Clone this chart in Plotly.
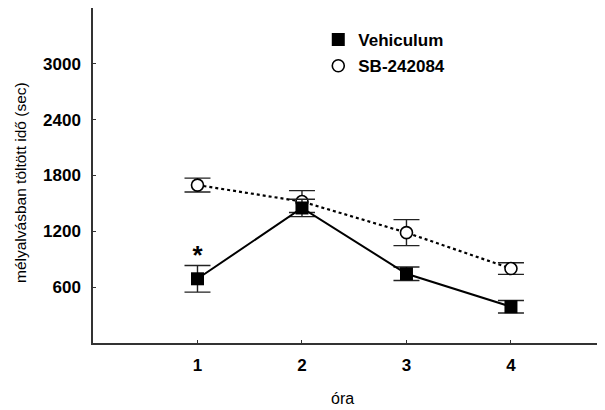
import plotly.graph_objects as go

hours = [1, 2, 3, 4]
veh_mean = [690, 1451, 744, 390]
veh_err = [143, 93, 72, 67]
sb_mean = [1697, 1520, 1186, 800]
sb_err = [75, 118, 140, 62]
y_ticks = [600, 1200, 1800, 2400, 3000]
star_x = [1]
star_y = [920]

FONT = "Liberation Sans, Arial, sans-serif"

# The page body has an 8px default margin; the figure is sized so that the
# plot area lands where the reference has it (left 93, top 8, right 605, bottom 343).
fig = go.Figure()

fig.add_trace(go.Scatter(
    x=hours, y=sb_mean, mode="lines+markers", showlegend=False,
    line=dict(color="black", width=2.2, dash="dot"),
    marker=dict(symbol="circle", size=12, color="white", line=dict(color="black", width=1.6)),
    error_y=dict(type="data", array=sb_err, visible=True, color="#222", thickness=1.4, width=13),
))
fig.add_trace(go.Scatter(
    x=hours, y=veh_mean, mode="lines+markers", showlegend=False,
    line=dict(color="black", width=2),
    marker=dict(symbol="square", size=13, color="black"),
    error_y=dict(type="data", array=veh_err, visible=True, color="#222", thickness=1.4, width=13),
))
# legend-only entries
fig.add_trace(go.Scatter(
    x=[None], y=[None], mode="markers", name="Vehiculum", legendgroup="a",
    marker=dict(symbol="square", size=13, color="black"),
))
fig.add_trace(go.Scatter(
    x=[None], y=[None], mode="markers", name="SB-242084", legendgroup="b",
    marker=dict(symbol="circle", size=12, color="white", line=dict(color="black", width=1.6)),
))

fig.add_trace(go.Scatter(
    x=star_x, y=star_y, mode="text", text=["<b>*</b>"], showlegend=False,
    textfont=dict(family=FONT, size=26, color="black"),
))

fig.update_layout(
    width=597, height=402,
    margin=dict(l=85, r=0, t=0, b=67),
    paper_bgcolor="white", plot_bgcolor="white",
    font=dict(family=FONT, color="black"),
    legend=dict(
        x=0.44, y=0.958, xanchor="left", yanchor="top",
        font=dict(family=FONT, size=17, color="black", weight="bold"),
        bgcolor="rgba(0,0,0,0)", tracegroupgap=1,
    ),
    xaxis=dict(
        range=[0, 4.9], tickvals=hours, ticktext=[str(h) for h in hours],
        showline=True, linecolor="#333", linewidth=1.5, mirror=False,
        ticks="inside", ticklen=3, tickcolor="#333", showgrid=False, zeroline=False,
        tickfont=dict(family=FONT, size=17, color="black", weight="bold"),
        ticklabelstandoff=6,
    ),
    yaxis=dict(
        range=[0, 3600], tickvals=y_ticks,
        showline=True, linecolor="#333", linewidth=1.5,
        ticks="inside", ticklen=3, tickcolor="#333", showgrid=False, zeroline=False,
        tickfont=dict(family=FONT, size=17, color="black", weight="bold"),
        ticklabelstandoff=7,
    ),
    annotations=[
        dict(text="óra", xref="paper", yref="paper", x=(342 - 93) / 512, y=-55 / 335,
             xanchor="center", yanchor="middle", showarrow=False,
             font=dict(family=FONT, size=16, color="black")),
        dict(text="mélyalvásban töltött idő (sec)", xref="paper", yref="paper",
             x=(21 - 93) / 512, y=(343 - 183) / 335, textangle=-90,
             xanchor="center", yanchor="middle", showarrow=False,
             font=dict(family=FONT, size=15.5, color="black")),
    ],
)

fig.write_html("out.html")
